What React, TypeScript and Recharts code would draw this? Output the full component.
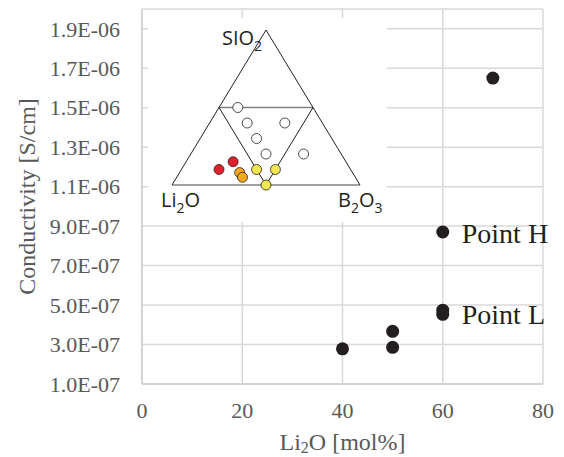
import React from 'react';
import { ScatterChart, Scatter, XAxis, YAxis, CartesianGrid, ReferenceLine } from 'recharts';

// main chart: Li2O content vs conductivity
const li2o = [40, 50, 50, 60, 60, 60, 70];
const conductivity = [2.78e-7, 2.86e-7, 3.67e-7, 4.53e-7, 4.74e-7, 8.7e-7, 1.65e-6];
const xTicks = [0, 20, 40, 60, 80];
const yTicks = [1e-7, 3e-7, 5e-7, 7e-7, 9e-7, 1.1e-6, 1.3e-6, 1.5e-6, 1.7e-6, 1.9e-6];

const noteText = ['Point H', 'Point L'];
const noteX = [60, 60];
const noteY = [8.7e-7, 4.62e-7];

// ternary inset, compositions in mol% as [Li2O, SiO2, B2O3]
const whiteGlasses = [[40, 50, 10], [40, 40, 20], [20, 40, 40], [40, 30, 30], [40, 20, 40], [20, 20, 60]];
const redGlasses = [[70, 10, 20], [60, 15, 25]];
const orangeGlasses = [[60, 8, 32], [60, 5, 35]];
const yellowGlasses = [[50, 10, 40], [40, 10, 50], [50, 0, 50]];
const vertexNames = [['SIO', '2', ''], ['Li', '2', 'O'], ['B', '2', 'O3']];

const mainData = li2o.map((x, i) => ({ x, y: conductivity[i] }));
const noteData = noteText.map((text, i) => ({ x: noteX[i], y: noteY[i], text }));

const toXY = (c: number[]) => ({ x: (c[2] + c[1] / 2) / 100, y: c[1] / 100 });
const white = whiteGlasses.map(toXY);
const red = redGlasses.map(toXY);
const orange = orangeGlasses.map(toXY);
const yellow = yellowGlasses.map(toXY);
const vertices = [
  { ...toXY([0, 100, 0]), n: vertexNames[0], dx: -44, dy: 15 },
  { ...toXY([100, 0, 0]), n: vertexNames[1], dx: -11, dy: 22 },
  { ...toXY([0, 0, 100]), n: vertexNames[2], dx: -22, dy: 22 },
];

const serif = 'Liberation Serif, Times New Roman, serif';
const sans = 'Open Sans, DejaVu Sans, sans-serif';
const grey = '#595959';

const fmtSci = (v: number) => {
  const [m, e] = v.toExponential(1).toUpperCase().split('E');
  const n = Number(e);
  return `${m}E${n < 0 ? '-' : '+'}${String(Math.abs(n)).padStart(2, '0')}`;
};

const dot = (fill: string) => (p: any) => (
  <circle cx={p.cx} cy={p.cy} r={5} fill={fill} stroke="#231f20" strokeWidth={0.8} />
);

const Inset = () => (
  <div style={{ position: 'absolute', left: 148, top: 18, width: 239, height: 204, background: '#fff' }}>
    <ScatterChart width={239} height={204} margin={{ top: 12, right: 27, bottom: 37, left: 24 }}>
      <XAxis type="number" dataKey="x" domain={[0, 1]} hide />
      <YAxis type="number" dataKey="y" domain={[0, 1]} hide />
      <ReferenceLine segment={[{ x: 0, y: 0 }, { x: 1, y: 0 }]} stroke="#808080" strokeWidth={1.5} />
      <ReferenceLine segment={[{ x: 0.25, y: 0.5 }, { x: 0.75, y: 0.5 }]} stroke="#808080" strokeWidth={1.5} />
      <ReferenceLine segment={[{ x: 0, y: 0 }, { x: 0.5, y: 1 }]} stroke="#231f20" strokeWidth={1} />
      <ReferenceLine segment={[{ x: 1, y: 0 }, { x: 0.5, y: 1 }]} stroke="#231f20" strokeWidth={1} />
      <ReferenceLine segment={[{ x: 0.25, y: 0.5 }, { x: 0.5, y: 0 }]} stroke="#231f20" strokeWidth={1} />
      <ReferenceLine segment={[{ x: 0.75, y: 0.5 }, { x: 0.5, y: 0 }]} stroke="#231f20" strokeWidth={1} />
      <Scatter data={white} shape={dot('#ffffff')} isAnimationActive={false} />
      <Scatter data={red} shape={dot('#e2202a')} isAnimationActive={false} />
      <Scatter data={orange} shape={dot('#f6a81e')} isAnimationActive={false} />
      <Scatter data={yellow} shape={dot('#f4e650')} isAnimationActive={false} />
      <Scatter
        data={vertices}
        isAnimationActive={false}
        shape={(p: any) => {
          const [a, s, b] = p.payload.n;
          return (
            <text x={p.cx + p.payload.dx} y={p.cy + p.payload.dy} fontFamily={sans} fontSize={20} fill="#231f20">
              <tspan>{a}</tspan>
              <tspan dy={6} fontSize={14}>{s}</tspan>
              {b ? <tspan dy={-6}>{b[0]}</tspan> : null}
              {b.length > 1 ? <tspan dy={6} fontSize={14}>{b.slice(1)}</tspan> : null}
            </text>
          );
        }}
      />
    </ScatterChart>
  </div>
);

const XTitle = (props: any) => {
  const { x, width } = props.viewBox;
  return (
    <text x={x + width / 2} y={450} textAnchor="middle" fontFamily={serif} fontSize={24} fill={grey}>
      <tspan>Li</tspan>
      <tspan dy={3} fontSize={16}>2</tspan>
      <tspan dy={-3}>O [mol%]</tspan>
    </text>
  );
};

const YTitle = (props: any) => {
  const { y, height } = props.viewBox;
  const cy = y + height / 2;
  return (
    <text x={27} y={cy} transform={`rotate(-90 27 ${cy})`} textAnchor="middle" dominantBaseline="central"
      fontFamily={serif} fontSize={24} fill={grey}>
      Conductivity [S/cm]
    </text>
  );
};

export default function App() {
  return (
    <div style={{ position: 'absolute', left: 0, top: 0, width: 564, height: 457, background: '#fff' }}>
      <ScatterChart width={564} height={457} margin={{ top: 9, right: 21, bottom: 43, left: 0 }}>
        <CartesianGrid stroke="#d9d9d9" strokeWidth={1.5} />
        <XAxis
          type="number"
          dataKey="x"
          domain={[0, 80]}
          ticks={xTicks}
          height={30}
          tickSize={0}
          tickMargin={18}
          tickLine={false}
          axisLine={{ stroke: '#cfcfcf', strokeWidth: 1.5 }}
          tick={{ fill: grey, fontFamily: serif, fontSize: 22 }}
          label={{ content: XTitle }}
        />
        <YAxis
          type="number"
          dataKey="y"
          domain={[1e-7, 2e-6]}
          ticks={yTicks}
          width={142}
          tickSize={0}
          tickMargin={22}
          tickLine={false}
          axisLine={{ stroke: '#cfcfcf', strokeWidth: 1.5 }}
          tickFormatter={fmtSci}
          tick={{ fill: grey, fontFamily: serif, fontSize: 22 }}
          label={{ content: YTitle }}
        />
        <Scatter
          data={mainData}
          isAnimationActive={false}
          shape={(p: any) => <circle cx={p.cx} cy={p.cy} r={6.5} fill="#231f20" />}
        />
        <Scatter
          data={noteData}
          isAnimationActive={false}
          shape={(p: any) => (
            <text x={p.cx + 19} y={p.cy + 11} fontFamily={serif} fontSize={28} fill="#231f20">
              {p.payload.text}
            </text>
          )}
        />
      </ScatterChart>
      <Inset />
    </div>
  );
}
